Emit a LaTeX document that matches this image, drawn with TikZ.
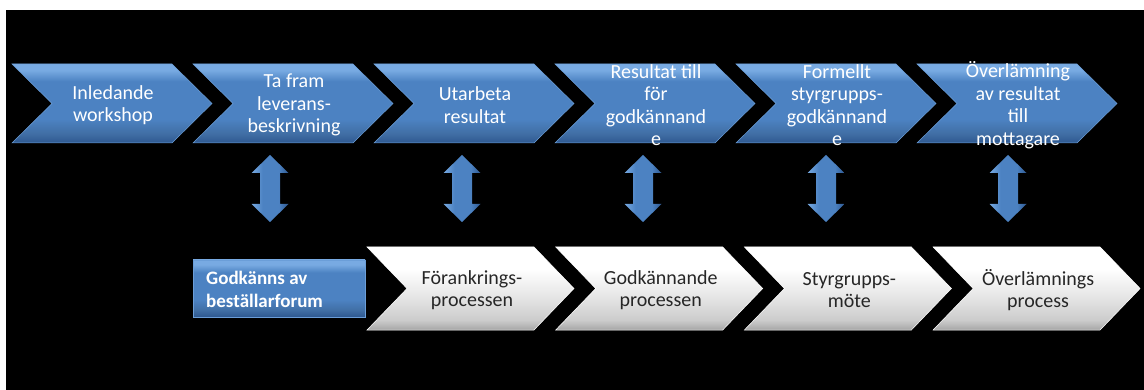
\documentclass[tikz,border=0pt]{standalone}
\usepackage{fontspec}
\setmainfont{Carlito}
\usetikzlibrary{positioning}

\definecolor{chevblue}{RGB}{76,130,194}
\definecolor{chevlight}{RGB}{120,170,226}
\definecolor{chevdark}{RGB}{46,88,144}
\definecolor{textgray}{RGB}{38,38,38}

% bevelled fills (path box is mapped onto 25bp..75bp)
\pgfdeclareverticalshading{bluebevel}{100bp}{color(0bp)=(chevdark); color(25bp)=(chevdark);
  color(31bp)=(chevblue!85!black); color(40bp)=(chevblue); color(64bp)=(chevblue);
  color(71bp)=(chevlight); color(75bp)=(chevlight); color(100bp)=(chevlight)}
\pgfdeclareverticalshading{whitebevel}{100bp}{color(0bp)=(black!35); color(25bp)=(black!35);
  color(31bp)=(black!20); color(45bp)=(black!10); color(62bp)=(white);
  color(75bp)=(white); color(100bp)=(white)}
\pgfdeclarehorizontalshading{arrowbevel}{100bp}{color(0bp)=(chevlight); color(25bp)=(chevlight);
  color(40bp)=(chevblue); color(62bp)=(chevblue); color(75bp)=(chevdark); color(100bp)=(chevdark)}

\tikzset{
  topchev/.style={shading=bluebevel, draw=chevlight!70!chevblue, line width=0.5pt},
  botchev/.style={shading=whitebevel, draw=white, line width=0.5pt},
  dblarrow/.style={shading=arrowbevel},
  toptext/.style={text=white, align=center, inner sep=0pt, font=\fontsize{20}{22.5}\selectfont},
  bottext/.style={text=textgray, align=center, inner sep=0pt, font=\fontsize{20}{22.5}\selectfont},
}

\begin{document}
\begin{tikzpicture}[x=1pt, y=-1pt]
    % Background
    \useasboundingbox[fill=white] (0,0) rectangle (1144,390);
    \fill[black] (6,10) rectangle (1144,390);

    % Top row of chevrons
    \foreach \i/\txt in {1/{Inledande\\workshop},
                         2/{Ta fram\\leverans-\\beskrivning},
                         3/{Utarbeta\\resultat},
                         4/{Resultat till\\för\\godkännand\\e},
                         5/{Formellt\\styrgrupps-\\godkännand\\e},
                         6/{Överlämning\\av resultat\\till\\mottagare}} {
        \pgfmathsetmacro{\x}{12+181*(\i-1)}
        \path[topchev] (\x,64) -- ++(160,0) -- ++(40,39.5) -- ++(-40,39.5)
            -- ++(-160,0) -- ++(40,-39.5) -- cycle;
        \node[toptext] (top\i) at (\x+101,105) {\txt};
    }

    % Double arrows
    \foreach \i/\ax in {1/270, 2/462, 3/643, 4/826, 5/1008} {
        \coordinate (arr\i) at (\ax,188.5);
        \path[dblarrow, shift={(arr\i)}] (0,-33.5) -- (18.5,-15.5) -- (10,-15.5)
            -- (10,15.5) -- (18.5,15.5) -- (0,33.5) -- (-18.5,15.5) -- (-10,15.5)
            -- (-10,-15.5) -- (-18.5,-15.5) -- cycle;
    }

    % Bottom row
    \path[topchev] (193,260) rectangle (365,317);
    \node[toptext, align=left, anchor=west, font=\fontsize{19}{23}\selectfont\bfseries]
        (godk) at (206,289) {Godkänns av\\beställarforum};

    \foreach \i/\txt in {1/{Förankrings-\\processen},
                         2/{Godkännande\\processen},
                         3/{Styrgrupps-\\möte},
                         4/{Överlämnings\\process}} {
        \pgfmathsetmacro{\x}{367+188.7*(\i-1)}
        \path[botchev] (\x,247) -- ++(167,0) -- ++(40,41.5) -- ++(-40,41.5)
            -- ++(-167,0) -- ++(40,-41.5) -- cycle;
        \node[bottext] (bot\i) at (\x+105,290) {\txt};
    }
\end{tikzpicture}
\end{document}
